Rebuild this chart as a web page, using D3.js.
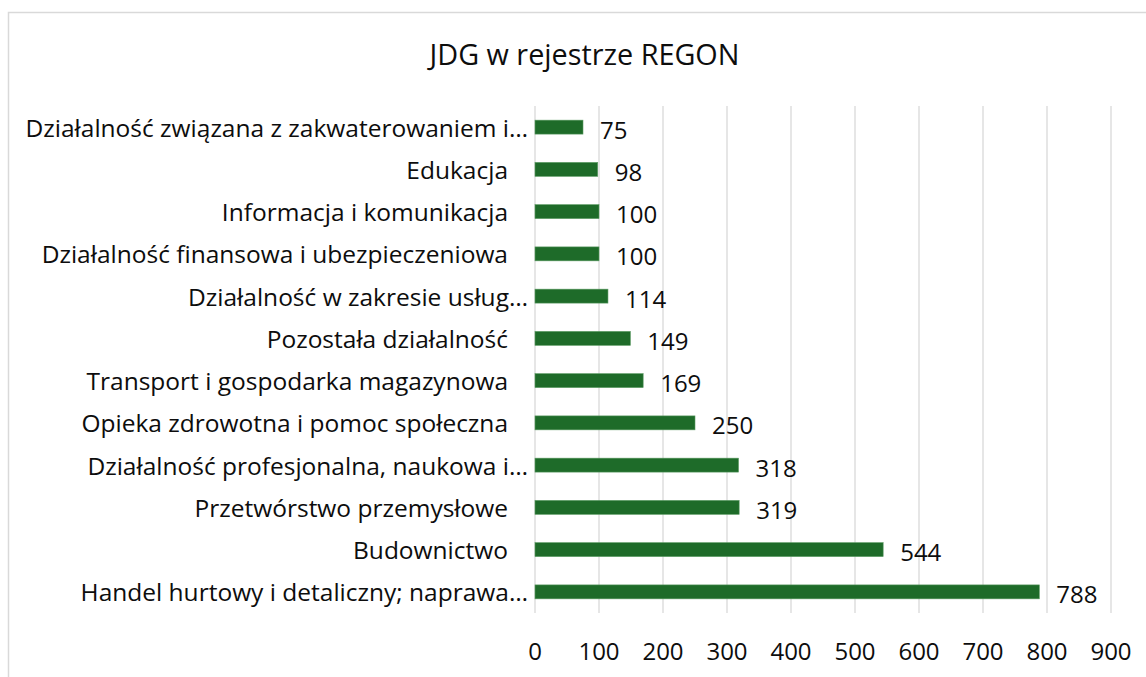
<!DOCTYPE html>
<html>
<head>
<meta charset="utf-8">
<script src="https://cdn.jsdelivr.net/npm/d3@7"></script>
<style>
  body { margin: 0; background: #fff; }
  #chart { width: 1146px; height: 677px; }
  text { font-family: "Open Sans", sans-serif; fill: #0d0d0d; }
</style>
</head>
<body>
<div id="chart"></div>
<script>
// categories top -> bottom, as in the picture
const categories = [
  "Działalność związana z zakwaterowaniem i…",
  "Edukacja",
  "Informacja i komunikacja",
  "Działalność finansowa i ubezpieczeniowa",
  "Działalność w zakresie usług…",
  "Pozostała działalność",
  "Transport i gospodarka magazynowa",
  "Opieka zdrowotna i pomoc społeczna",
  "Działalność profesjonalna, naukowa i…",
  "Przetwórstwo przemysłowe",
  "Budownictwo",
  "Handel hurtowy i detaliczny; naprawa…"
];
const values = [75, 98, 100, 100, 114, 149, 169, 250, 318, 319, 544, 788];
const xTicks = [0, 100, 200, 300, 400, 500, 600, 700, 800, 900];
const title = "JDG w rejestrze REGON";

const width = 1146, height = 677;
const margin = { left: 535, right: 35, top: 106, bottom: 64 };
const barColor = "#1e6b29";

const svg = d3.select("#chart")
  .append("svg")
  .attr("width", width)
  .attr("height", height);

//chart frame (only top + left edges visible)
svg.append("path")
  .attr("d", `M8.5,${height} V12.5 H${width}`)
  .attr("fill", "none")
  .attr("stroke", "#d9d9d9")
  .attr("stroke-width", 1.5);

const xScale = d3.scaleLinear()
  .domain([0, 900])
  .range([margin.left, width - margin.right]);

const yScale = d3.scaleBand()
  .domain(categories)
  .range([margin.top, height - margin.bottom])
  .paddingInner(0.67)
  .paddingOuter(0.335);

//gridlines
svg.append("g")
  .selectAll("line")
  .data(xTicks)
  .enter()
  .append("line")
    .attr("x1", (d) => xScale(d))
    .attr("x2", (d) => xScale(d))
    .attr("y1", margin.top)
    .attr("y2", height - margin.bottom)
    .attr("stroke", "#d9d9d9")
    .attr("stroke-width", 1.3);

//x tick labels
svg.append("g")
  .selectAll("text")
  .data(xTicks)
  .enter()
  .append("text")
    .attr("x", (d) => xScale(d))
    .attr("y", 650)
    .attr("text-anchor", "middle")
    .attr("dominant-baseline", "central")
    .attr("font-size", 24)
    .text((d) => d);

//category labels - truncated ones sit a bit further right like in excel
svg.append("g")
  .selectAll("text")
  .data(categories)
  .enter()
  .append("text")
    .attr("x", (d) => (d.endsWith("…") ? 528 : 508))
    .attr("y", (d) => yScale(d) + yScale.bandwidth() / 2)
    .attr("text-anchor", "end")
    .attr("dominant-baseline", "central")
    .attr("font-size", 24.5)
    .text((d) => d);

//bars
svg.append("g")
  .selectAll("rect")
  .data(values)
  .enter()
  .append("rect")
    .attr("x", xScale(0))
    .attr("y", (d, i) => yScale(categories[i]))
    .attr("width", (d) => xScale(d) - xScale(0))
    .attr("height", yScale.bandwidth())
    .attr("fill", barColor)
    .attr("stroke", "#5a9a62")
    .attr("stroke-width", 0.6);

//value labels
svg.append("g")
  .selectAll("text")
  .data(values)
  .enter()
  .append("text")
    .attr("x", (d) => xScale(d) + 17)
    .attr("y", (d, i) => yScale(categories[i]) + yScale.bandwidth() / 2 + 2)
    .attr("dominant-baseline", "central")
    .attr("font-size", 24)
    .text((d) => d);

//title
svg.append("text")
  .attr("x", 584.5)
  .attr("y", 53)
  .attr("text-anchor", "middle")
  .attr("dominant-baseline", "central")
  .attr("font-size", 28.8)
  .text(title);
</script>
</body>
</html>
